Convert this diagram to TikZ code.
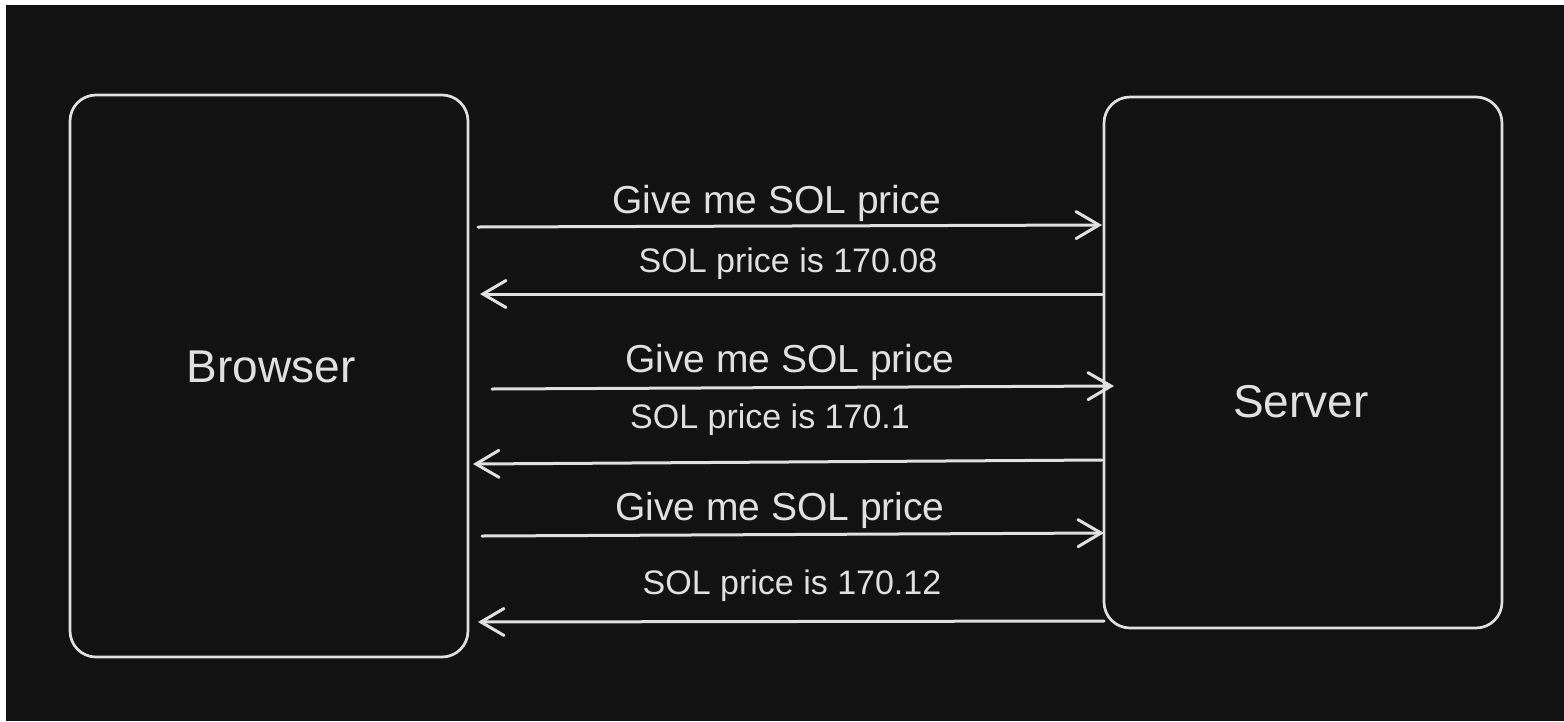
\documentclass[tikz,border=0pt]{standalone}
\usepackage{fontspec}
\setmainfont{Liberation Sans}
\usetikzlibrary{arrows.meta}
\definecolor{canvas}{HTML}{121212}
\definecolor{ink}{HTML}{E0E0E0}
\tikzset{
  party/.style={draw=ink, line width=2.7pt, rounded corners=26pt, minimum width=398pt, inner sep=0pt},
  msg/.style={draw=ink, line width=3pt, line cap=round, -{Straight Barb[length=23pt,width=27pt,line cap=round]}},
  bigtext/.style={text=ink, font=\fontsize{46}{54}\selectfont, inner sep=0pt},
  reqtext/.style={text=ink, font=\fontsize{39}{46}\selectfont, inner sep=0pt},
  resptext/.style={text=ink, font=\fontsize{34}{40}\selectfont, inner sep=0pt},
}
\begin{document}
\begin{tikzpicture}[x=1pt,y=-1pt]
  % page and dark canvas
  \fill[white] (0,0) rectangle (1564,721);
  \fill[canvas] (6,5) rectangle (1564,721);
  \useasboundingbox (0,0) rectangle (1564,721);

  % the two parties
  \node[party, minimum height=562pt] (browser) at (269,376) {};
  \node[party, minimum height=531pt] (server) at (1303,362.5) {};
  \node[bigtext] (browsertext) at (271,367) {Browser};
  \node[bigtext] (servertext) at (1301,402) {Server};

  % end points of the messages
  \coordinate (r1s) at (478,227);  \coordinate (r1e) at (1102,225);
  \coordinate (p1s) at (1102,294); \coordinate (p1e) at (480,294);
  \coordinate (r2s) at (492,389);  \coordinate (r2e) at (1114,386);
  \coordinate (p2s) at (1102,460); \coordinate (p2e) at (473,464);
  \coordinate (r3s) at (482,536);  \coordinate (r3e) at (1104,533);
  \coordinate (p3s) at (1104,621); \coordinate (p3e) at (478,622);

  % requests and replies
  \draw[msg] (r1s) -- (r1e);
  \draw[msg] (p1s) -- (p1e);
  \draw[msg] (r2s) -- (r2e);
  \draw[msg] (p2s) -- (p2e);
  \draw[msg] (r3s) -- (r3e);
  \draw[msg] (p3s) -- (p3e);

  % message labels
  \node[reqtext] (q1) at (777,203) {Give me SOL price};
  \node[resptext] (a1) at (788,264) {SOL price is 170.08};
  \node[reqtext] (q2) at (790,362) {Give me SOL price};
  \node[resptext] (a2) at (770,420) {SOL price is 170.1};
  \node[reqtext] (q3) at (780,510) {Give me SOL price};
  \node[resptext] (a3) at (792,586) {SOL price is 170.12};
\end{tikzpicture}
\end{document}
